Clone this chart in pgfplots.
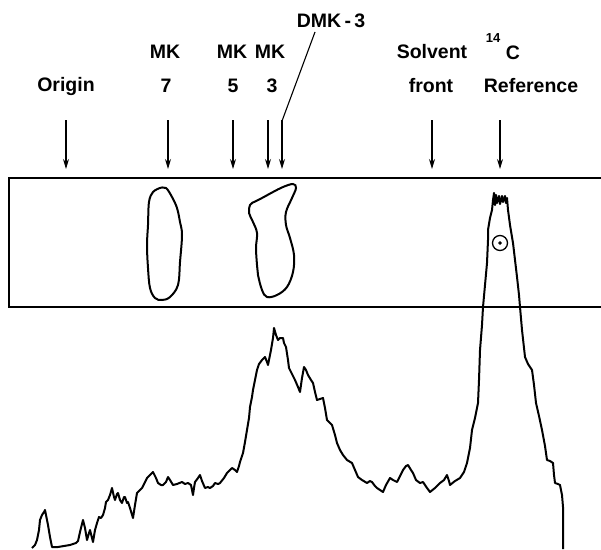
\documentclass[border=0pt]{standalone}
\usepackage{fontspec}
\setmainfont{Liberation Sans}
\usepackage{pgfplots}
\pgfplotsset{compat=1.18}
\usetikzlibrary{arrows.meta}
\begin{document}
\begin{tikzpicture}
\begin{axis}[scale only axis, width=601pt, height=549pt,
  xmin=0, xmax=601, ymin=0, ymax=549, y dir=reverse,
  hide axis, clip=false, anchor=south west, at={(0pt,0pt)}]
% radioactivity trace (pixel coordinates, y downward)
\addplot[black, line width=2pt, line join=round] coordinates {
(32,548) (35,545) (37,540) (39,530) (40,520) (42,515) (44,512) (45,510) (46,515) (48,525)
(50,537) (52,547) (58,547) (64,546) (70,545) (76,543) (78,541) (80,532) (83,520) (85,528)
(87,540) (89,533) (90,530) (92,538) (93,542) (95,530) (97,523) (99,517) (101,518) (103,515)
(105,508) (106,502) (108,500) (110,495) (112,488) (114,497) (115,500) (117,494) (118,493) (120,500)
(122,503) (124,497) (125,497) (127,503) (128,502) (130,508) (133,518) (135,505) (137,493) (140,490)
(142,488) (145,482) (147,478) (150,475) (153,472) (156,478) (158,483) (161,485) (163,485) (166,482)
(168,477) (170,480) (173,485) (177,484) (182,482) (185,484) (188,483) (191,485) (193,495) (194,488)
(195,482) (198,478) (200,475) (202,481) (205,488) (208,487) (210,488) (213,486) (215,483) (218,484)
(220,483) (224,478) (227,473) (230,470) (232,468) (235,470) (237,472) (239,466) (240,462) (242,456)
(243,453) (245,442) (247,430) (249,418) (250,407) (252,397) (253,390) (255,380) (257,370) (259,364)
(262,360) (264,358) (265,357) (267,362) (268,365) (270,355) (271,350) (273,338) (274,328) (276,335)
(278,340) (280,338) (283,338) (284,343) (286,347) (288,360) (289,368) (292,374) (295,380) (298,387)
(300,392) (302,378) (304,367) (306,370) (308,375) (311,380) (313,383) (315,392) (317,400) (320,399)
(323,398) (325,408) (327,420) (330,423) (332,425) (335,435) (337,443) (340,450) (343,455) (347,460)
(352,463) (355,470) (358,477) (362,480) (367,483) (370,481) (372,482) (375,486) (377,488) (380,490)
(383,492) (386,485) (390,478) (393,480) (397,482) (400,476) (403,470) (406,466) (408,465) (411,470)
(413,473) (416,480) (420,483) (423,482) (427,488) (430,492) (435,488) (440,483) (444,480) (447,475)
(449,481) (450,485) (455,481) (460,478) (464,472) (467,463) (470,448) (472,430) (475,418) (478,403)
(479,380) (480,350) (482,325) (483,307) (485,285) (487,263) (488,240) (488,230) (490,218) (492,210)
(493,200) (494,193) (495,205) (496,195) (497,203) (499,196) (500,204) (502,196) (503,202) (505,196)
(506,203) (507,198) (508,210) (510,225) (513,243) (515,260) (517,277) (519,295) (520,307) (522,330)
(525,357) (528,364) (532,370) (534,385) (536,403) (539,416) (542,430) (545,446) (547,460) (550,461)
(553,463) (554,475) (555,483) (558,484) (560,485) (562,495) (563,507) (563,530) (563,549)
};
% MK-7 spot
\addplot[black, line width=2pt, smooth, tension=0.6] coordinates {
(160,188) (153,192) (149,202) (148,225) (147,245) (148,268) (150,288) (155,298) (162,300)
(170,297) (178,285) (180,262) (182,235) (180,222) (177,208) (172,197) (166,188) (160,188)
};
% MK-3 / DMK-3 spot
\addplot[black, line width=2pt, smooth, tension=0.6] coordinates {
(254,202) (250,205) (249,213) (253,222) (257,233) (256,248) (257,265) (258,275) (262,290)
(267,297) (277,295) (287,287) (293,272) (294,255) (290,238) (286,225) (286,212) (292,198)
(296,188) (293,184) (283,187) (273,192) (262,198) (254,202)
};
% reference marker
\addplot[black, only marks, mark=o, mark size=7.5pt, line width=1.3pt] coordinates {(500,243)};
\addplot[black, only marks, mark=*, mark size=1.5pt] coordinates {(500,243)};
% strip box
\draw[line width=2pt] (axis cs:605,178) -- (axis cs:9,178) -- (axis cs:9,307) -- (axis cs:605,307);
% arrows
\tikzset{arr/.style={line width=1.1pt, -{Stealth[length=10pt,width=6pt]}}}
\draw[arr] (axis cs:66,120) -- (axis cs:66,169);
\draw[arr] (axis cs:168,120) -- (axis cs:168,169);
\draw[arr] (axis cs:233,120) -- (axis cs:233,169);
\draw[arr] (axis cs:268,120) -- (axis cs:268,169);
\draw[arr] (axis cs:282,120) -- (axis cs:282,169);
\draw[arr] (axis cs:432,120) -- (axis cs:432,169);
\draw[arr] (axis cs:500,120) -- (axis cs:500,169);
\draw[line width=1.1pt] (axis cs:282,121) -- (axis cs:315,32);
% labels
\tikzset{lab/.style={font=\fontsize{19.5}{23}\selectfont\bfseries, inner sep=0pt, anchor=center}}
\node[lab] at (axis cs:66,86) {Origin};
\node[lab] at (axis cs:165,52) {MK};
\node[lab] at (axis cs:166,86) {7};
\node[lab] at (axis cs:232,52) {MK};
\node[lab] at (axis cs:233,86) {5};
\node[lab] at (axis cs:270,52) {MK};
\node[lab] at (axis cs:272,86) {3};
\node[lab] at (axis cs:331,21) {DMK\,-\,3};
\node[lab] at (axis cs:432,52) {Solvent};
\node[lab] at (axis cs:431,86) {front};
\node[font=\fontsize{13}{15}\selectfont\bfseries, inner sep=0pt] at (axis cs:493,38) {14};
\node[lab] at (axis cs:513,53) {C};
\node[lab] at (axis cs:531,86) {Reference};
\end{axis}
\pgfresetboundingbox
\useasboundingbox (0pt,0pt) rectangle (601pt,549pt);
\end{tikzpicture}
\end{document}
